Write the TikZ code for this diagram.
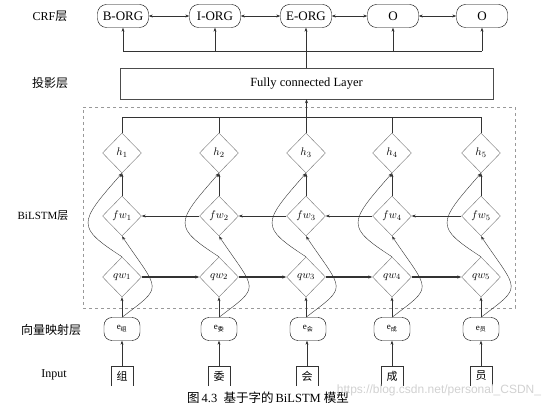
\documentclass[tikz,border=0pt]{standalone}
\usepackage{amsmath}
\usepackage{fontspec}
\setmainfont{Liberation Serif}
\newfontfamily\cjk{Noto Sans CJK SC}
\newfontfamily\wmfont{Liberation Sans}
\usetikzlibrary{shapes.geometric, arrows.meta, positioning, calc}
\tikzset{
  crfnode/.style = {rectangle, draw, rounded corners=9pt, minimum width=51pt,
                    minimum height=23pt, inner sep=1pt, font=\fontsize{13}{15}\selectfont},
  cell/.style    = {diamond, draw=black!55, minimum width=39pt, minimum height=40pt,
                    inner sep=0pt, font=\fontsize{11}{13}\selectfont},
  embed/.style   = {rectangle, draw, rounded corners=8pt, minimum width=36pt,
                    minimum height=23pt, inner sep=1pt, font=\fontsize{9}{11}\selectfont},
  charbox/.style = {rectangle, minimum width=21pt, minimum height=20pt, inner sep=0pt,
                    font=\cjk\fontsize{11}{13}\selectfont},
  layer/.style   = {font=\fontsize{12}{14}\selectfont},
  link/.style    = {black!80},
  arrow/.style   = {link, -{Stealth[length=4pt,width=3pt]}},
  darrow/.style  = {link, {Stealth[length=4pt,width=3pt]}-{Stealth[length=4pt,width=3pt]}},
  tarrow/.style  = {arrow, line width=1.1pt},
}

\begin{document}
\begin{tikzpicture}[x=1pt, y=-1pt]
    \useasboundingbox (0,0) rectangle (554,411);

    %% Layer labels
    \node[layer] (lcrf)  at (50,16)  {CRF{\cjk 层}};
    \node[layer] (lproj) at (50,83)  {\cjk 投影层};
    \node[layer, font=\fontsize{11}{13}\selectfont] (llstm) at (43,216) {BiLSTM{\cjk 层}};
    \node[layer] (lemb)  at (51,330) {\cjk 向量映射层};
    \node[layer] (linp)  at (54,375) {Input};

    %% CRF layer
    \node[crfnode] (crf1) at (123,16) {B-ORG};
    \node[crfnode] (crf2) at (215,16) {I-ORG};
    \node[crfnode] (crf3) at (306,16) {E-ORG};
    \node[crfnode] (crf4) at (393,16) {O};
    \node[crfnode] (crf5) at (482,16) {O};
    \coordinate (crfbus) at (0,51);

    %% Projection layer
    \node[draw=black!70, minimum width=373pt, minimum height=31pt,
          font=\fontsize{12.5}{14}\selectfont] (fc) at (306.5,83.5) {Fully connected Layer};
    \coordinate (hbus) at (0,117);

    %% BiLSTM frame
    \node[draw=black!40, dashed, minimum width=432pt, minimum height=201pt] (bilstm) at (299,207.5) {};

    %% BiLSTM cells
    \node[cell] (h1) at (122,153) {$h_1$};
    \node[cell] (h2) at (219,153) {$h_2$};
    \node[cell] (h3) at (306,153) {$h_3$};
    \node[cell] (h4) at (392,153) {$h_4$};
    \node[cell] (h5) at (481,153) {$h_5$};

    \node[cell] (fw1) at (122,216) {$fw_1$};
    \node[cell] (fw2) at (219,216) {$fw_2$};
    \node[cell] (fw3) at (306,216) {$fw_3$};
    \node[cell] (fw4) at (392,216) {$fw_4$};
    \node[cell] (fw5) at (481,216) {$fw_5$};

    \node[cell] (qw1) at (122,277) {$qw_1$};
    \node[cell] (qw2) at (219,277) {$qw_2$};
    \node[cell] (qw3) at (306,277) {$qw_3$};
    \node[cell] (qw4) at (392,277) {$qw_4$};
    \node[cell] (qw5) at (481,277) {$qw_5$};

    %% Embedding layer
    \node[embed] (e1) at (122,329) {e$_{\text{\cjk 组}}$};
    \node[embed] (e2) at (219,329) {e$_{\text{\cjk 委}}$};
    \node[embed] (e3) at (308,329) {e$_{\text{\cjk 会}}$};
    \node[embed] (e4) at (392,329) {e$_{\text{\cjk 成}}$};
    \node[embed] (e5) at (481,329) {e$_{\text{\cjk 员}}$};

    %% Input characters
    \node[charbox] (in1) at (122,376) {组};
    \node[charbox] (in2) at (219,376) {委};
    \node[charbox] (in3) at (307,376) {会};
    \node[charbox] (in4) at (392,376) {成};
    \node[charbox] (in5) at (481,376) {员};
    \draw[link] (in1.south west) -- (in1.north west) -- (in1.north east) -- (in1.south east);
    \draw[link] (in2.south west) -- (in2.north west) -- (in2.north east) -- (in2.south east);
    \draw[link] (in3.south west) -- (in3.north west) -- (in3.north east) -- (in3.south east);
    \draw[link] (in4.south west) -- (in4.north west) -- (in4.north east) -- (in4.south east);
    \draw[link] (in5.south west) -- (in5.north west) -- (in5.north east) -- (in5.south east);

    %% Caption and watermark
    \node[font=\fontsize{12.5}{14}\selectfont] (cap) at (268,398) {{\cjk 图}\,4.3\ \ {\cjk 基于字的}\,BiLSTM\ {\cjk 模型}};
    \node[font=\wmfont\fontsize{12}{14}\selectfont, text=black!18] (wm) at (439,390) {https://blog.csdn.net/personal\_CSDN\_};

    %% CRF transitions
    \draw[darrow] (crf1) -- (crf2);
    \draw[darrow] (crf2) -- (crf3);
    \draw[darrow] (crf3) -- (crf4);
    \draw[darrow] (crf4) -- (crf5);

    %% Projection to CRF
    \draw[link]  (crf1 |- crfbus) -- (crf5 |- crfbus);
    \draw[link]  (fc.north) -- (fc.north |- crfbus);
    \draw[arrow] (crf1 |- crfbus) -- (crf1.south);
    \draw[arrow] (crf2 |- crfbus) -- (crf2.south);
    \draw[arrow] (crf3 |- crfbus) -- (crf3.south);
    \draw[arrow] (crf4 |- crfbus) -- (crf4.south);
    \draw[arrow] (crf5 |- crfbus) -- (crf5.south);

    %% BiLSTM outputs to projection
    \draw[link]   (h1 |- hbus) -- (h5 |- hbus);
    \draw[link]   (h1.north) -- (h1 |- hbus);
    \draw[link]   (h2.north) -- (h2 |- hbus);
    \draw[link]   (h3.north) -- (h3 |- hbus);
    \draw[link]   (h4.north) -- (h4 |- hbus);
    \draw[link]   (h5.north) -- (h5 |- hbus);
    \draw[tarrow] (fc.south |- hbus) -- (fc.south);

    %% Forward chain
    \draw[tarrow] (qw1) -- (qw2);
    \draw[tarrow] (qw2) -- (qw3);
    \draw[tarrow] (qw3) -- (qw4);
    \draw[tarrow] (qw4) -- (qw5);

    %% Backward chain
    \draw[arrow] (fw2) -- (fw1);
    \draw[arrow] (fw3) -- (fw2);
    \draw[arrow] (fw4) -- (fw3);
    \draw[arrow] (fw5) -- (fw4);

    %% Backward state to output
    \draw[arrow] (fw1) -- (h1);
    \draw[arrow] (fw2) -- (h2);
    \draw[arrow] (fw3) -- (h3);
    \draw[arrow] (fw4) -- (h4);
    \draw[arrow] (fw5) -- (h5);

    %% Forward state to output
    \draw[arrow] (qw1.north) .. controls +(-46,-30) and +(-44,50) .. (h1.south);
    \draw[arrow] (qw2.north) .. controls +(-46,-30) and +(-44,50) .. (h2.south);
    \draw[arrow] (qw3.north) .. controls +(-46,-30) and +(-44,50) .. (h3.south);
    \draw[arrow] (qw4.north) .. controls +(-46,-30) and +(-44,50) .. (h4.south);
    \draw[arrow] (qw5.north) .. controls +(-46,-30) and +(-44,50) .. (h5.south);

    %% Embeddings into both directions
    \draw[arrow] (e1) -- (qw1);
    \draw[arrow] (e2) -- (qw2);
    \draw[arrow] (e3.north -| qw3) -- (qw3);
    \draw[arrow] (e4) -- (qw4);
    \draw[arrow] (e5) -- (qw5);
    \draw[arrow] (e1.north) .. controls +(42,-32) and +(38,56) .. (fw1.south);
    \draw[arrow] (e2.north) .. controls +(42,-32) and +(38,56) .. (fw2.south);
    \draw[arrow] (e3.north -| qw3) .. controls +(42,-32) and +(38,56) .. (fw3.south);
    \draw[arrow] (e4.north) .. controls +(42,-32) and +(38,56) .. (fw4.south);
    \draw[arrow] (e5.north) .. controls +(42,-32) and +(38,56) .. (fw5.south);

    %% Characters to embeddings
    \draw[arrow] (in1) -- (e1);
    \draw[arrow] (in2) -- (e2);
    \draw[arrow] (in3) -- (in3 |- e3.south);
    \draw[arrow] (in4) -- (e4);
    \draw[arrow] (in5) -- (e5);

  \end{tikzpicture}
\end{document}
